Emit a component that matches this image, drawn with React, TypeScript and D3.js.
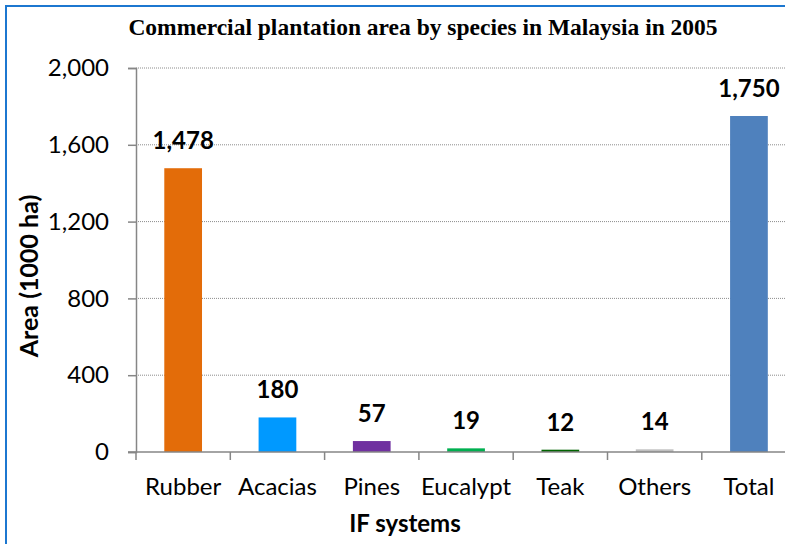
import { useEffect, useRef } from 'react';
import * as d3 from 'd3';

const categories = ['Rubber', 'Acacias', 'Pines', 'Eucalypt', 'Teak', 'Others', 'Total'];
const areas = [1478, 180, 57, 19, 12, 14, 1750];
const barColors = ['#E36C09', '#0099FF', '#7030A0', '#00B050', '#006400', '#BFBFBF', '#4F81BD'];
const yTicks = [0, 400, 800, 1200, 1600, 2000];

const App = () => {
  const svgRef = useRef<SVGSVGElement>(null);

  useEffect(() => {
    const W = 785;
    const H = 544;
    const svg = d3.select(svgRef.current);
    svg.selectAll('*').remove();
    svg.attr('width', W).attr('height', H);

    // Chart area frame (cropped on right and bottom)
    svg.append('path')
      .attr('d', `M6,${H} L6,6 L${W},6`)
      .attr('fill', 'none')
      .attr('stroke', '#1C77D0')
      .attr('stroke-width', 2);

    const left = 136;
    const step = 94.3;
    const x = d3.scaleBand<string>()
      .domain(categories)
      .range([left, left + step * categories.length])
      .paddingInner(0.6)
      .paddingOuter(0.3);

    const y = d3.scaleLinear().domain([0, 2000]).range([452, 68]);

    const font = 'Lato, "Open Sans", sans-serif';
    const fs = 24;

    // Title
    svg.append('text')
      .attr('x', 423)
      .attr('y', 35)
      .attr('text-anchor', 'middle')
      .attr('font-family', '"Liberation Serif", "Times New Roman", serif')
      .attr('font-weight', 'bold')
      .attr('font-size', 23.5)
      .attr('fill', '#000')
      .text('Commercial plantation area by species in Malaysia in 2005');

    // Gridlines
    svg.append('g')
      .selectAll('line')
      .data(yTicks.filter(d => d > 0))
      .join('line')
      .attr('x1', left)
      .attr('x2', W)
      .attr('y1', d => y(d))
      .attr('y2', d => y(d))
      .attr('stroke', '#8C8C8C')
      .attr('stroke-width', 1)
      .attr('stroke-dasharray', '1,1');

    // Y axis
    const yAxis = svg.append('g')
      .attr('transform', `translate(${left},0)`)
      .call(d3.axisLeft(y).tickValues(yTicks).tickSize(8).tickPadding(19).tickFormat(d3.format(',')));
    yAxis.select('.domain').attr('stroke', '#868686').attr('stroke-width', 1.5);
    yAxis.selectAll('.tick line').attr('stroke', '#868686').attr('stroke-width', 1.5);
    yAxis.selectAll('.tick text')
      .attr('font-family', font)
      .attr('font-size', fs)
      .attr('fill', '#000');

    // Bars
    svg.append('g')
      .selectAll('rect')
      .data(areas)
      .join('rect')
      .attr('x', (_, i) => x(categories[i])!)
      .attr('width', x.bandwidth())
      .attr('y', d => y(d))
      .attr('height', d => y(0) - y(d))
      .attr('fill', (_, i) => barColors[i]);

    // X axis
    svg.append('line')
      .attr('x1', left - 8)
      .attr('x2', W)
      .attr('y1', y(0))
      .attr('y2', y(0))
      .attr('stroke', '#868686')
      .attr('stroke-width', 1.5);
    svg.append('g')
      .selectAll('line')
      .data(d3.range(categories.length + 1))
      .join('line')
      .attr('x1', i => left + i * x.step())
      .attr('x2', i => left + i * x.step())
      .attr('y1', y(0))
      .attr('y2', y(0) + 8)
      .attr('stroke', '#868686')
      .attr('stroke-width', 1.5);

    svg.append('g')
      .selectAll('text')
      .data(categories)
      .join('text')
      .attr('x', d => x(d)! + x.bandwidth() / 2)
      .attr('y', 495)
      .attr('text-anchor', 'middle')
      .attr('font-family', font)
      .attr('font-size', fs)
      .attr('fill', '#000')
      .text(d => d);

    // Value labels
    svg.append('g')
      .selectAll('text')
      .data(areas)
      .join('text')
      .attr('x', (_, i) => x(categories[i])! + x.bandwidth() / 2)
      .attr('y', d => y(d) - 19)
      .attr('text-anchor', 'middle')
      .attr('font-family', font)
      .attr('font-weight', 'bold')
      .attr('font-size', fs)
      .attr('fill', '#000')
      .text(d => d3.format(',')(d));

    // Axis titles
    svg.append('text')
      .attr('transform', `translate(38,276) rotate(-90)`)
      .attr('text-anchor', 'middle')
      .attr('font-family', font)
      .attr('font-weight', 'bold')
      .attr('font-size', 25)
      .attr('fill', '#000')
      .text('Area (1000 ha)');

    svg.append('text')
      .attr('x', 405)
      .attr('y', 532)
      .attr('text-anchor', 'middle')
      .attr('font-family', font)
      .attr('font-weight', 'bold')
      .attr('font-size', fs)
      .attr('fill', '#000')
      .text('IF systems');
  }, []);

  return (
    <svg
      ref={svgRef}
      style={{ position: 'absolute', left: 0, top: 0, display: 'block', background: '#fff' }}
    />
  );
};

export default App;
